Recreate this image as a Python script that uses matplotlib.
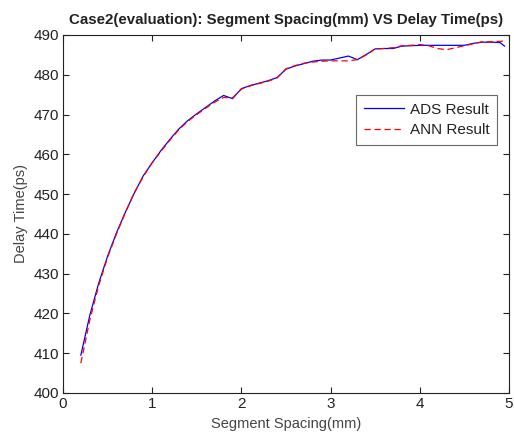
import matplotlib
matplotlib.use("Agg")
import matplotlib.pyplot as plt

plt.rcParams['font.family'] = ['Liberation Sans', 'DejaVu Sans']

spacing = [0.2, 0.3, 0.4, 0.5, 0.6, 0.7, 0.8, 0.9, 1.0, 1.1, 1.2, 1.3, 1.4, 1.5,
           1.6, 1.7, 1.8, 1.9, 2.0, 2.1, 2.2, 2.3, 2.4, 2.5, 2.6, 2.7, 2.8, 2.9,
           3.0, 3.1, 3.2, 3.3, 3.4, 3.5, 3.6, 3.7, 3.8, 3.9, 4.0, 4.1, 4.2, 4.3,
           4.4, 4.5, 4.6, 4.7, 4.8, 4.9, 4.95]
ads = [409.5, 419.5, 427.6, 434.4, 440.3, 445.5, 450.3, 454.6, 457.9, 461.0,
       463.8, 466.4, 468.5, 470.2, 471.8, 473.4, 474.8, 474.0, 476.5, 477.3,
       477.9, 478.5, 479.3, 481.4, 482.2, 482.8, 483.4, 483.7, 483.7, 484.2,
       484.7, 483.8, 485.1, 486.5, 486.6, 486.6, 487.2, 487.3, 487.4, 487.4,
       487.4, 487.4, 487.4, 487.4, 487.9, 488.2, 488.2, 488.1, 487.2]
ann = [407.5, 418.3, 427.0, 434.1, 440.0, 445.4, 450.4, 454.4, 457.9, 460.8,
       463.6, 466.2, 468.3, 470.0, 471.6, 473.1, 474.3, 474.2, 476.4, 477.2,
       477.8, 478.4, 479.2, 481.5, 482.3, 482.9, 483.2, 483.4, 483.5, 483.5,
       483.5, 483.8, 485.0, 486.5, 486.6, 486.8, 487.3, 487.4, 487.6, 487.3,
       486.6, 486.3, 486.8, 487.3, 487.8, 488.3, 488.3, 488.4, 488.5]

fig = plt.figure(figsize=(5.14, 4.32), dpi=100)
ax = fig.add_axes([0.1226, 0.0903, 0.8676, 0.8287])

ax.plot(spacing, ads, color='#0000ff', lw=0.9, label='ADS Result')
ax.plot(spacing, ann, color='#ff0000', lw=0.9, ls=(0, (5, 3)), label='ANN Result')

ax.set_xlim(0, 5)
ax.set_ylim(400, 490)
ax.set_xticks([0, 1, 2, 3, 4, 5])
ax.set_yticks(range(400, 491, 10))
ax.tick_params(direction='in', top=True, right=True, length=4, width=0.8,
               labelsize=11, colors='#222222', pad=3)
for s in ax.spines.values():
    s.set_linewidth(0.8)
    s.set_color('#222222')

ax.set_xlabel('Segment Spacing(mm)', fontsize=10.5, color='#444444', labelpad=4)
ax.set_ylabel('Delay Time(ps)', fontsize=10.5, color='#444444', labelpad=4)
ax.set_title('Case2(evaluation): Segment Spacing(mm) VS Delay Time(ps)',
             fontsize=10.8, fontweight='bold', color='#222222', pad=8)

leg = ax.legend(loc='upper right', bbox_to_anchor=(0.973, 0.832), fontsize=11,
                frameon=True, fancybox=False, borderpad=0.5, labelspacing=0.42,
                handlelength=2.6, handletextpad=0.4, borderaxespad=0)
leg.get_frame().set_edgecolor('#444444')
leg.get_frame().set_linewidth(0.8)
for t in leg.get_texts():
    t.set_color('#222222')

fig.savefig('out.png', dpi=100)
